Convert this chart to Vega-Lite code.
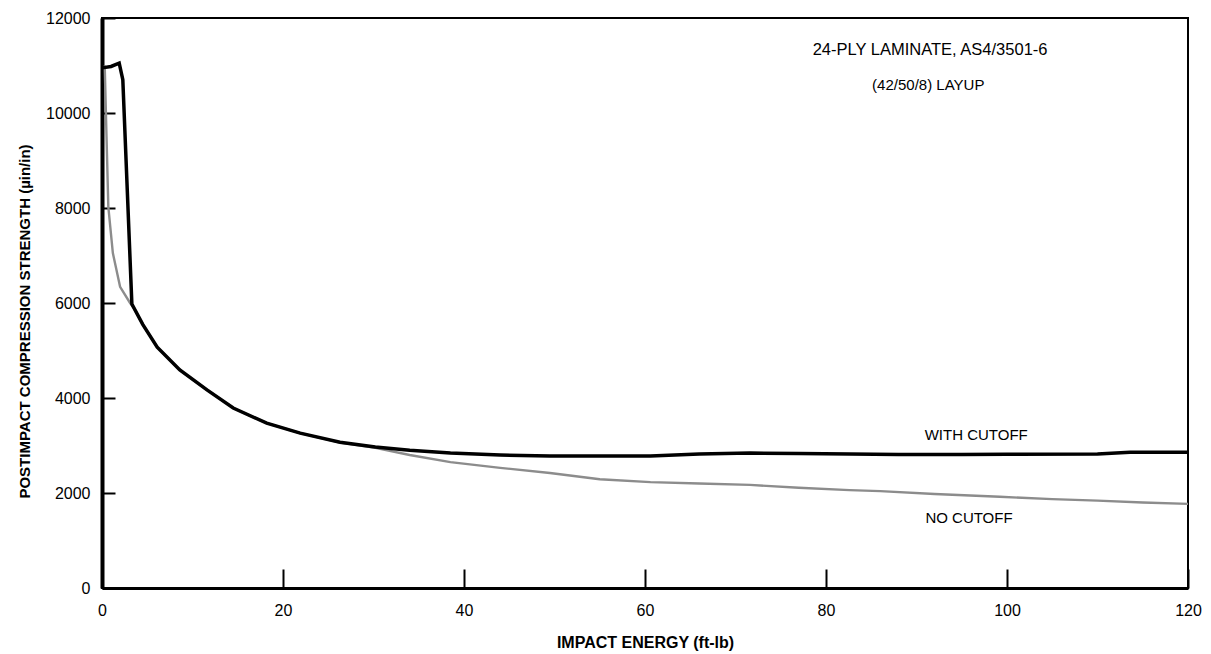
{
  "$schema": "https://vega.github.io/schema/vega-lite/v6.json",
  "width": 1086,
  "height": 570,
  "autosize": {"type": "none"},
  "padding": {"left": 102, "top": 18, "right": 23, "bottom": 66},
  "background": "white",
  "config": {
    "font": "Liberation Sans",
    "view": {"stroke": "black", "strokeWidth": 2},
    "axis": {"grid": false, "domainColor": "black", "tickColor": "black", "labelColor": "black", "titleColor": "black", "labelFont": "Liberation Sans", "titleFont": "Liberation Sans"}
  },
  "datasets": {
    "curves": [
      {"series": "WITH CUTOFF", "energy": 0, "strength": 10950},
      {"series": "WITH CUTOFF", "energy": 1.0, "strength": 10980},
      {"series": "WITH CUTOFF", "energy": 1.9, "strength": 11050},
      {"series": "WITH CUTOFF", "energy": 2.3, "strength": 10700},
      {"series": "WITH CUTOFF", "energy": 3.3, "strength": 5980},
      {"series": "WITH CUTOFF", "energy": 4.5, "strength": 5550},
      {"series": "WITH CUTOFF", "energy": 6.1, "strength": 5070},
      {"series": "WITH CUTOFF", "energy": 8.6, "strength": 4590},
      {"series": "WITH CUTOFF", "energy": 11.6, "strength": 4170},
      {"series": "WITH CUTOFF", "energy": 14.5, "strength": 3790},
      {"series": "WITH CUTOFF", "energy": 18.2, "strength": 3470},
      {"series": "WITH CUTOFF", "energy": 21.9, "strength": 3260},
      {"series": "WITH CUTOFF", "energy": 26.3, "strength": 3070},
      {"series": "WITH CUTOFF", "energy": 30.2, "strength": 2970},
      {"series": "WITH CUTOFF", "energy": 34, "strength": 2900},
      {"series": "WITH CUTOFF", "energy": 38.5, "strength": 2840},
      {"series": "WITH CUTOFF", "energy": 44, "strength": 2800},
      {"series": "WITH CUTOFF", "energy": 49.5, "strength": 2780},
      {"series": "WITH CUTOFF", "energy": 55, "strength": 2780},
      {"series": "WITH CUTOFF", "energy": 60.6, "strength": 2780},
      {"series": "WITH CUTOFF", "energy": 66, "strength": 2820},
      {"series": "WITH CUTOFF", "energy": 71.6, "strength": 2840},
      {"series": "WITH CUTOFF", "energy": 77, "strength": 2830},
      {"series": "WITH CUTOFF", "energy": 82.6, "strength": 2820},
      {"series": "WITH CUTOFF", "energy": 88, "strength": 2810},
      {"series": "WITH CUTOFF", "energy": 95, "strength": 2810},
      {"series": "WITH CUTOFF", "energy": 100, "strength": 2815},
      {"series": "WITH CUTOFF", "energy": 110, "strength": 2820},
      {"series": "WITH CUTOFF", "energy": 113.6, "strength": 2860},
      {"series": "WITH CUTOFF", "energy": 120, "strength": 2860},
      {"series": "NO CUTOFF", "energy": 0.3, "strength": 11000},
      {"series": "NO CUTOFF", "energy": 0.5, "strength": 9500},
      {"series": "NO CUTOFF", "energy": 0.7, "strength": 8020},
      {"series": "NO CUTOFF", "energy": 1.2, "strength": 7050},
      {"series": "NO CUTOFF", "energy": 2.0, "strength": 6340},
      {"series": "NO CUTOFF", "energy": 3.1, "strength": 6000},
      {"series": "NO CUTOFF", "energy": 3.5, "strength": 5900},
      {"series": "NO CUTOFF", "energy": 4.5, "strength": 5550},
      {"series": "NO CUTOFF", "energy": 6.1, "strength": 5070},
      {"series": "NO CUTOFF", "energy": 8.6, "strength": 4590},
      {"series": "NO CUTOFF", "energy": 11.6, "strength": 4170},
      {"series": "NO CUTOFF", "energy": 14.5, "strength": 3790},
      {"series": "NO CUTOFF", "energy": 18.2, "strength": 3470},
      {"series": "NO CUTOFF", "energy": 21.9, "strength": 3260},
      {"series": "NO CUTOFF", "energy": 26.3, "strength": 3060},
      {"series": "NO CUTOFF", "energy": 30.2, "strength": 2950},
      {"series": "NO CUTOFF", "energy": 34, "strength": 2800},
      {"series": "NO CUTOFF", "energy": 38.5, "strength": 2650},
      {"series": "NO CUTOFF", "energy": 44, "strength": 2530},
      {"series": "NO CUTOFF", "energy": 49.5, "strength": 2420},
      {"series": "NO CUTOFF", "energy": 55, "strength": 2290},
      {"series": "NO CUTOFF", "energy": 60.6, "strength": 2230},
      {"series": "NO CUTOFF", "energy": 66, "strength": 2200},
      {"series": "NO CUTOFF", "energy": 71.6, "strength": 2170},
      {"series": "NO CUTOFF", "energy": 77, "strength": 2110},
      {"series": "NO CUTOFF", "energy": 82.6, "strength": 2060},
      {"series": "NO CUTOFF", "energy": 86, "strength": 2040},
      {"series": "NO CUTOFF", "energy": 92, "strength": 1980},
      {"series": "NO CUTOFF", "energy": 99.2, "strength": 1920},
      {"series": "NO CUTOFF", "energy": 105, "strength": 1870},
      {"series": "NO CUTOFF", "energy": 110, "strength": 1840},
      {"series": "NO CUTOFF", "energy": 115, "strength": 1800},
      {"series": "NO CUTOFF", "energy": 120, "strength": 1770}
    ],
    "notes": [
      {"label": "24-PLY LAMINATE, AS4/3501-6", "energy": 91.5, "strength": 11330, "kind": "big"},
      {"label": "(42/50/8) LAYUP", "energy": 91.3, "strength": 10590, "kind": "small"},
      {"label": "WITH CUTOFF", "energy": 96.6, "strength": 3220, "kind": "small"},
      {"label": "NO CUTOFF", "energy": 95.8, "strength": 1470, "kind": "small"}
    ]
  },
  "layer": [
    {
      "data": {"name": "curves"},
      "transform": [{"filter": "datum.series === 'NO CUTOFF'"}],
      "mark": {"type": "line", "color": "#8c8c8c", "strokeWidth": 2.4},
      "encoding": {
        "x": {"field": "energy", "type": "quantitative", "scale": {"domain": [0, 120], "nice": false},
          "axis": {"values": [0, 20, 40, 60, 80, 100, 120], "format": "d", "tickSize": -19, "tickWidth": 2, "domainWidth": 3,
            "labelFontSize": 16, "labelPadding": 33, "labelFlush": false,
            "title": "IMPACT ENERGY (ft-lb)", "titleFontSize": 16, "titleFontWeight": "bold", "titleX": 543, "titleY": 54, "titleBaseline": "middle", "titleAlign": "center"}},
        "y": {"field": "strength", "type": "quantitative", "scale": {"domain": [0, 12000], "nice": false},
          "axis": {"values": [0, 2000, 4000, 6000, 8000, 10000, 12000], "format": "d", "tickSize": -13, "tickWidth": 2, "domainWidth": 4,
            "labelFontSize": 16, "labelPadding": 25, "labelFlush": false,
            "title": "POSTIMPACT COMPRESSION STRENGTH  (µin/in)", "titleFontSize": 15, "titleFontWeight": "bold", "titleX": -78, "titleY": 303, "titleBaseline": "middle", "titleAlign": "center", "titleAngle": -90}}
      }
    },
    {
      "data": {"name": "curves"},
      "transform": [{"filter": "datum.series === 'WITH CUTOFF'"}],
      "mark": {"type": "line", "color": "black", "strokeWidth": 3.5},
      "encoding": {
        "x": {"field": "energy", "type": "quantitative"},
        "y": {"field": "strength", "type": "quantitative"}
      }
    },
    {
      "data": {"name": "notes"},
      "transform": [{"filter": "datum.kind === 'big'"}],
      "mark": {"type": "text", "fontSize": 16.5, "color": "black", "align": "center", "baseline": "middle"},
      "encoding": {
        "x": {"field": "energy", "type": "quantitative"},
        "y": {"field": "strength", "type": "quantitative"},
        "text": {"field": "label"}
      }
    },
    {
      "data": {"name": "notes"},
      "transform": [{"filter": "datum.kind === 'small'"}],
      "mark": {"type": "text", "fontSize": 15, "color": "black", "align": "center", "baseline": "middle"},
      "encoding": {
        "x": {"field": "energy", "type": "quantitative"},
        "y": {"field": "strength", "type": "quantitative"},
        "text": {"field": "label"}
      }
    }
  ]
}
